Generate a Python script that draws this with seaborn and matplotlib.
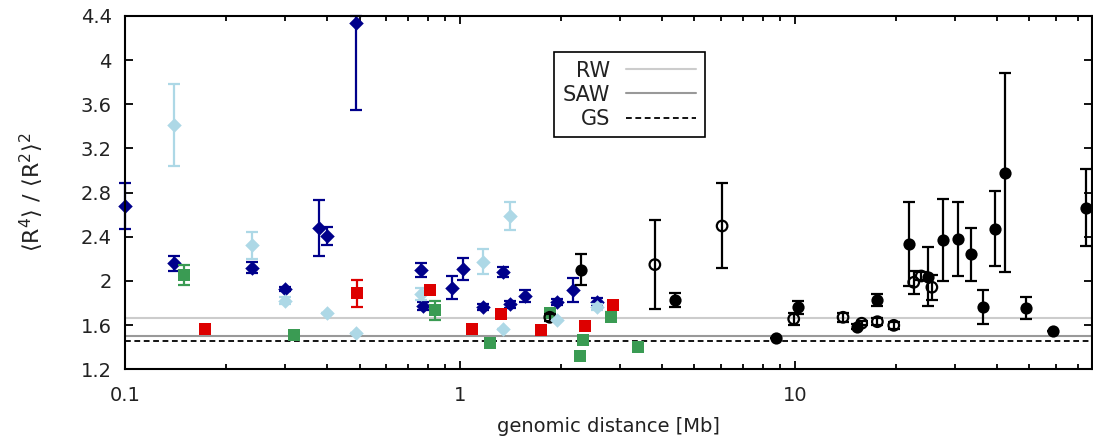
import numpy as np
import pandas as pd
import matplotlib
matplotlib.use("Agg")
import matplotlib.pyplot as plt
from matplotlib.ticker import FuncFormatter, LogLocator, FixedLocator, NullFormatter
import seaborn as sns

# ---- data: genomic distance [Mb], moment ratio, error ----
navy_x = [0.100, 0.140, 0.239, 0.299, 0.378, 0.399, 0.488, 0.764, 0.774, 0.943,
          1.019, 1.170, 1.340, 1.408, 1.557, 1.950, 2.170, 2.560]
navy_y = [2.68, 2.16, 2.12, 1.925, 2.48, 2.41, 4.34, 2.10, 1.773, 1.94,
          2.11, 1.764, 2.081, 1.789, 1.864, 1.81, 1.916, 1.812]
navy_lo = [0.21, 0.07, 0.05, 0.02, 0.25, 0.08, 0.79, 0.065, 0.035, 0.105,
           0.10, 0.03, 0.045, 0.03, 0.055, 0.03, 0.11, 0.03]
navy_hi = [0.21, 0.07, 0.05, 0.02, 0.25, 0.08, 0.06, 0.065, 0.035, 0.105,
           0.10, 0.03, 0.045, 0.03, 0.055, 0.03, 0.11, 0.03]

lblue_x = [0.140, 0.239, 0.299, 0.399, 0.488, 0.764, 1.170, 1.340, 1.408, 1.950, 2.560]
lblue_y = [3.41, 2.323, 1.821, 1.713, 1.526, 1.882, 2.175, 1.568, 2.589, 1.647, 1.764]
lblue_err = [0.37, 0.12, 0.03, 0.0, 0.0, 0.055, 0.11, 0.0, 0.125, 0.0, 0.03]

green_x = [0.150, 0.319, 0.838, 1.228, 1.850, 2.325, 2.280, 2.820, 3.400]
green_y = [2.054, 1.51, 1.734, 1.435, 1.713, 1.465, 1.32, 1.677, 1.40]
green_err = [0.095, 0.0, 0.085, 0.0, 0.0, 0.0, 0.0, 0.04, 0.0]

red_x = [0.173, 0.490, 0.813, 1.084, 1.325, 1.742, 2.360, 2.860]
red_y = [1.562, 1.888, 1.921, 1.565, 1.698, 1.559, 1.592, 1.78]
red_err = [0.0, 0.12, 0.03, 0.0, 0.03, 0.0, 0.0, 0.03]

filled_x = [2.29, 4.39, 8.79, 10.2, 15.3, 17.6, 21.9, 24.9, 27.7, 30.6,
            33.6, 36.4, 39.4, 42.3, 49.0, 59.0, 74.0]
filled_y = [2.10, 1.828, 1.486, 1.762, 1.586, 1.828, 2.335, 2.039, 2.371, 2.377,
            2.244, 1.767, 2.474, 2.981, 1.755, 1.544, 2.664]
filled_err = [0.14, 0.06, 0.0, 0.06, 0.02, 0.055, 0.38, 0.27, 0.37, 0.335,
              0.24, 0.155, 0.34, 0.90, 0.10, 0.0, 0.35]

open_x = [1.85, 3.81, 6.05, 9.9, 13.9, 15.8, 17.6, 19.7, 22.6, 23.8, 25.6]
open_y = [1.671, 2.148, 2.498, 1.656, 1.671, 1.617, 1.631, 1.598, 1.988, 2.045, 1.943]
open_err = [0.03, 0.40, 0.385, 0.057, 0.04, 0.02, 0.03, 0.03, 0.105, 0.04, 0.115]

# reference values of the ratio for polymer models
ref_names = ["RW", "SAW", "GS"]
ref_values = [5.0 / 3.0, 1.503, 1.455]

x_ticks = [0.1, 1, 10]
y_ticks = [1.2, 1.6, 2.0, 2.4, 2.8, 3.2, 3.6, 4.0, 4.4]

# ---- style ----
sns.set_theme(style="ticks")
plt.rcParams["font.family"] = ["DejaVu Sans"]
plt.rcParams["text.color"] = "#222222"
plt.rcParams["axes.labelcolor"] = "#222222"
plt.rcParams["xtick.color"] = "black"
plt.rcParams["ytick.color"] = "black"
plt.rcParams["xtick.labelcolor"] = "#222222"
plt.rcParams["ytick.labelcolor"] = "#222222"
plt.rcParams["mathtext.fontset"] = "dejavusans"
plt.rcParams["mathtext.default"] = "regular"

fig = plt.figure(figsize=(10.93, 4.43), dpi=100)
ax = fig.add_axes([0.1148, 0.1664, 0.8843, 0.7975])

# horizontal reference lines
ref_styles = [dict(color="#cccccc", lw=1.5, ls="-"),
              dict(color="#999999", lw=1.5, ls="-"),
              dict(color="black", lw=1.3, ls=(0, (3.2, 2.0)))]
for name, val, st in zip(ref_names, ref_values, ref_styles):
    ax.axhline(val, label=name, zorder=1, **st)


def series(xs, ys, lo, hi, color, marker, size, face=None, z=2, clip=True):
    df = pd.DataFrame({"x": xs, "y": ys})
    ax.errorbar(xs, ys, yerr=[lo, hi], fmt="none", ecolor=color, elinewidth=1.6,
                capsize=4.2, capthick=1.6, zorder=z, clip_on=clip)
    sns.scatterplot(data=df, x="x", y="y", ax=ax, marker=marker, s=size ** 2,
                    color=color if face is None else face,
                    edgecolor=color, linewidth=1.6 if face is not None else 0,
                    zorder=z + 0.1, legend=False, clip_on=clip)


series(navy_x, navy_y, navy_lo, navy_hi, "#00008b", "D", 7.4, z=2, clip=False)
series(green_x, green_y, green_err, green_err, "#3a9b53", "s", 9.2, z=3)
series(filled_x, filled_y, filled_err, filled_err, "black", "o", 8.8, z=4)
series(open_x, open_y, open_err, open_err, "black", "o", 7.6, face="none", z=5)
series(lblue_x, lblue_y, lblue_err, lblue_err, "#add8e6", "D", 7.4, z=6)
series(red_x, red_y, red_err, red_err, "#dd0000", "s", 9.2, z=7)

# ---- axes ----
ax.set_xscale("log")
ax.set_xlim(0.1, 77)
ax.set_ylim(1.2, 4.4)
ax.xaxis.set_major_locator(FixedLocator(x_ticks))
ax.xaxis.set_minor_locator(LogLocator(base=10, subs=np.arange(2, 10)))
ax.xaxis.set_major_formatter(FuncFormatter(lambda v, p: f"{v:g}"))
ax.xaxis.set_minor_formatter(NullFormatter())
ax.yaxis.set_major_locator(FixedLocator(y_ticks))
ax.yaxis.set_major_formatter(FuncFormatter(lambda v, p: f"{v:g}"))

ax.tick_params(which="both", direction="in", top=True, right=True, width=1.3)
ax.tick_params(which="major", length=6, labelsize=14)
ax.tick_params(which="minor", length=3.5)
ax.tick_params(axis="y", pad=10)
ax.tick_params(axis="x", pad=12)
for sp in ax.spines.values():
    sp.set_linewidth(1.5)
    sp.set_color("black")

ax.set_xlabel("genomic distance [Mb]", fontsize=14, labelpad=9)
ax.set_ylabel(r"$\left\langle R^4 \right\rangle\ /\ \left\langle R^2 \right\rangle^2$",
              fontsize=16, labelpad=25)

leg = ax.legend(loc="upper left", bbox_to_anchor=(0.4437, 0.8973), borderaxespad=0,
                markerfirst=False, fancybox=False, framealpha=1, edgecolor="black",
                fontsize=15, handlelength=3.4, handletextpad=0.75, labelspacing=0.2,
                borderpad=0.4)
leg.get_frame().set_linewidth(1.2)
for col in leg._legend_handle_box.get_children():
    col.align = "right"

fig.savefig("out.png", dpi=100)
